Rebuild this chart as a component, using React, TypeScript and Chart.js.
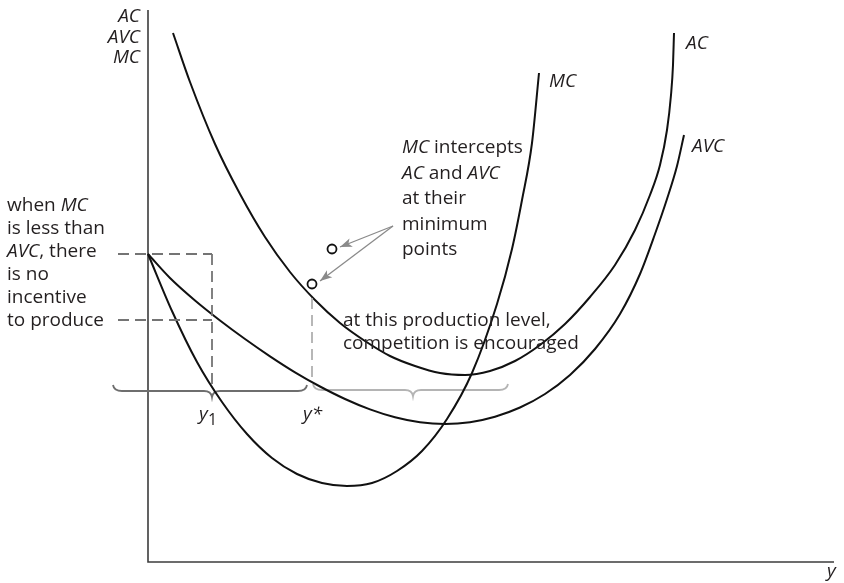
import React, { useEffect, useRef } from "react";
import { Chart, registerables } from "chart.js";

Chart.register(...registerables);

// ---- scale extents (output y on x axis, cost on vertical axis) ----
const X_MAX = 688;
const Y_MAX = 552;

// ---- curves ----
const acX = [25, 42, 67, 92, 117, 142, 167, 192, 217, 242, 267, 292, 317, 342, 367, 392, 417, 442, 467, 487, 502, 512, 519, 523, 525, 526];
const acY = [529, 480, 418, 368, 325, 290, 262, 239, 221, 206, 196, 189, 187, 191, 201, 217, 238, 265, 297, 332, 367, 397, 432, 467, 497, 529];

const avcX = [0, 22, 47, 72, 97, 122, 147, 172, 197, 222, 247, 272, 297, 322, 347, 372, 397, 422, 447, 472, 492, 507, 519, 529, 536];
const avcY = [308, 284, 261.5, 241.5, 223, 205.7, 189.7, 175.5, 163, 152.6, 144.7, 139.7, 138, 139.8, 145.3, 154.5, 168, 187, 213, 248, 288, 328, 363, 396, 427];

const mcX = [0, 24, 49, 74, 99, 124, 149, 174, 199, 224, 249, 274, 299, 324, 349, 364, 374, 384, 391];
const mcY = [308, 251, 200, 160, 128, 104, 88, 79, 76, 79, 91, 111, 143, 189, 258, 313, 362, 419, 489];

// minimum-point markers
const markX = [184, 164];
const markY = [313, 278];

// reference levels
const priceHigh = 308;
const priceLow = 242;
const y1 = 64;
const yStar = 164;

// ---- annotation geometry (data coordinates) ----
const dashLeft = -30;
const dashStarTop = 264;
const dashStarBottom = 180;
const dashY1Bottom = 176;
const braceDark = { from: -35, to: 159, tip: 64, level: 171 };
const braceLight = { from: 165, to: 360, tip: 265, level: 172 };
const arrowApex = { x: 245, y: 336 };
const arrowTips = [
  { x: 192, y: 315 },
  { x: 172, y: 281 },
];

type Seg = { t: string; i?: boolean };
type Block = { x: number; y: number; lh: number; align?: "left" | "right"; size?: number; lines: Seg[][] };

const TEXT_BLOCKS: Block[] = [
  {
    x: -8, y: 540, lh: 20.5, align: "right",
    lines: [[{ t: "AC", i: true }], [{ t: "AVC", i: true }], [{ t: "MC", i: true }]],
  },
  {
    x: -141, y: 351, lh: 23,
    lines: [
      [{ t: "when " }, { t: "MC", i: true }],
      [{ t: "is less than" }],
      [{ t: "AVC", i: true }, { t: ", there" }],
      [{ t: "is no" }],
      [{ t: "incentive" }],
      [{ t: "to produce" }],
    ],
  },
  {
    x: 254, y: 409, lh: 25.5,
    lines: [
      [{ t: "MC", i: true }, { t: " intercepts" }],
      [{ t: "AC", i: true }, { t: " and " }, { t: "AVC", i: true }],
      [{ t: "at their" }],
      [{ t: "minimum" }],
      [{ t: "points" }],
    ],
  },
  {
    x: 195, y: 236, lh: 23,
    lines: [[{ t: "at this production level," }], [{ t: "competition is encouraged" }]],
  },
  { x: 401, y: 475, lh: 0, lines: [[{ t: "MC", i: true }]] },
  { x: 538, y: 513, lh: 0, lines: [[{ t: "AC", i: true }]] },
  { x: 544, y: 410, lh: 0, lines: [[{ t: "AVC", i: true }]] },
  { x: 51, y: 142, lh: 0, lines: [[{ t: "y", i: true }]] },
  { x: 60, y: 137, lh: 0, size: 16, lines: [[{ t: "1" }]] },
  { x: 155, y: 142, lh: 0, lines: [[{ t: "y*", i: true }]] },
  { x: 679, y: -15, lh: 0, lines: [[{ t: "y", i: true }]] },
];

const FONT = "'Open Sans'";
const FONT_SIZE = 19;
const TEXT_COLOR = "#231f20";

const pts = (xs: number[], ys: number[]) => xs.map((x, k) => ({ x, y: ys[k] }));

function drawBrace(ctx: CanvasRenderingContext2D, x0: number, x1: number, xm: number, y: number) {
  ctx.beginPath();
  ctx.moveTo(x0, y - 6);
  ctx.quadraticCurveTo(x0 + 1, y, x0 + 9, y);
  ctx.lineTo(xm - 8, y);
  ctx.quadraticCurveTo(xm - 1, y, xm, y + 6);
  ctx.quadraticCurveTo(xm + 1, y, xm + 8, y);
  ctx.lineTo(x1 - 9, y);
  ctx.quadraticCurveTo(x1 - 1, y, x1, y - 6);
  ctx.stroke();
}

const overlay = {
  id: "overlay",
  beforeDatasetsDraw(chart: any) {
    const { ctx, scales } = chart;
    const X = (v: number) => scales.x.getPixelForValue(v);
    const Y = (v: number) => scales.y.getPixelForValue(v);
    ctx.save();
    // axes
    ctx.strokeStyle = "#3c3c3c";
    ctx.lineWidth = 1.6;
    ctx.beginPath();
    ctx.moveTo(X(0), Y(Y_MAX));
    ctx.lineTo(X(0), Y(0));
    ctx.lineTo(X(686), Y(0));
    ctx.stroke();
    // braces
    ctx.lineWidth = 1.8;
    ctx.strokeStyle = "#6e6e6e";
    drawBrace(ctx, X(braceDark.from), X(braceDark.to), X(braceDark.tip), Y(braceDark.level));
    ctx.strokeStyle = "#b4b4b4";
    drawBrace(ctx, X(braceLight.from), X(braceLight.to), X(braceLight.tip), Y(braceLight.level));
    ctx.restore();
  },
  afterDatasetsDraw(chart: any) {
    const { ctx, scales } = chart;
    const X = (v: number) => scales.x.getPixelForValue(v);
    const Y = (v: number) => scales.y.getPixelForValue(v);
    ctx.save();
    // arrow heads
    ctx.fillStyle = "#8a8a8a";
    arrowTips.forEach((tip) => {
      const tx = X(tip.x), ty = Y(tip.y);
      const ax = X(arrowApex.x), ay = Y(arrowApex.y);
      const ang = Math.atan2(ty - ay, tx - ax);
      const len = 12, hw = 4.5;
      const bx = tx - len * Math.cos(ang), by = ty - len * Math.sin(ang);
      ctx.beginPath();
      ctx.moveTo(tx, ty);
      ctx.lineTo(bx + hw * Math.sin(ang), by - hw * Math.cos(ang));
      ctx.lineTo(bx + 3 * Math.cos(ang), by + 3 * Math.sin(ang));
      ctx.lineTo(bx - hw * Math.sin(ang), by + hw * Math.cos(ang));
      ctx.closePath();
      ctx.fill();
    });
    // text
    ctx.fillStyle = TEXT_COLOR;
    ctx.textBaseline = "alphabetic";
    TEXT_BLOCKS.forEach((b) => {
      const size = b.size || FONT_SIZE;
      b.lines.forEach((line, li) => {
        const fontOf = (s: Seg) => `${s.i ? "italic " : ""}${size}px ${FONT}`;
        let total = 0;
        line.forEach((s) => { ctx.font = fontOf(s); total += ctx.measureText(s.t).width; });
        let cx = X(b.x) - (b.align === "right" ? total : 0);
        const cy = Y(b.y) + li * b.lh;
        line.forEach((s) => {
          ctx.font = fontOf(s);
          ctx.textAlign = "left";
          ctx.fillText(s.t, cx, cy);
          cx += ctx.measureText(s.t).width;
        });
      });
    });
    ctx.restore();
  },
};

export default function App() {
  const ref = useRef<HTMLCanvasElement>(null);
  useEffect(() => {
    const curve = (data: any[]) => ({
      data,
      borderColor: "#111111",
      borderWidth: 2,
      pointRadius: 0,
      fill: false,
      cubicInterpolationMode: "monotone" as const,
      clip: false as any,
    });
    const dash = (data: any[], color: string) => ({
      data,
      borderColor: color,
      borderWidth: 1.8,
      borderDash: [11, 6],
      pointRadius: 0,
      fill: false,
      tension: 0,
      clip: false as any,
    });
    const arrow = (tip: { x: number; y: number }) => ({
      data: [arrowApex, tip],
      borderColor: "#8a8a8a",
      borderWidth: 1.3,
      pointRadius: 0,
      fill: false,
      tension: 0,
      clip: false as any,
    });
    const chart = new Chart(ref.current as HTMLCanvasElement, {
      type: "line",
      data: {
        datasets: [
          dash([{ x: dashLeft, y: priceHigh }, { x: y1, y: priceHigh }], "#747474"),
          dash([{ x: dashLeft, y: priceLow }, { x: y1, y: priceLow }], "#747474"),
          dash([{ x: y1, y: priceHigh }, { x: y1, y: dashY1Bottom }], "#747474"),
          dash([{ x: yStar, y: dashStarTop }, { x: yStar, y: dashStarBottom }], "#b0b0b0"),
          curve(pts(acX, acY)),
          curve(pts(avcX, avcY)),
          curve(pts(mcX, mcY)),
          arrow(arrowTips[0]),
          arrow(arrowTips[1]),
          {
            data: pts(markX, markY),
            showLine: false,
            pointRadius: 4.5,
            pointBackgroundColor: "#ffffff",
            pointBorderColor: "#111111",
            pointBorderWidth: 1.8,
            borderColor: "#111111",
            clip: false as any,
          },
        ],
      },
      options: {
        animation: false,
        responsive: false,
        devicePixelRatio: 1,
        events: [],
        layout: { padding: { left: 148, right: 8, top: 10, bottom: 21 } },
        scales: {
          x: { type: "linear", min: 0, max: X_MAX, display: false },
          y: { type: "linear", min: 0, max: Y_MAX, display: false },
        },
        plugins: { legend: { display: false }, tooltip: { enabled: false } },
      },
      plugins: [overlay],
    });
    return () => chart.destroy();
  }, []);
  return (
    <div style={{ position: "fixed", left: 0, top: 0, width: 844, height: 583, background: "#ffffff" }}>
      <canvas ref={ref} width={844} height={583} style={{ width: 844, height: 583, display: "block" }} />
    </div>
  );
}
